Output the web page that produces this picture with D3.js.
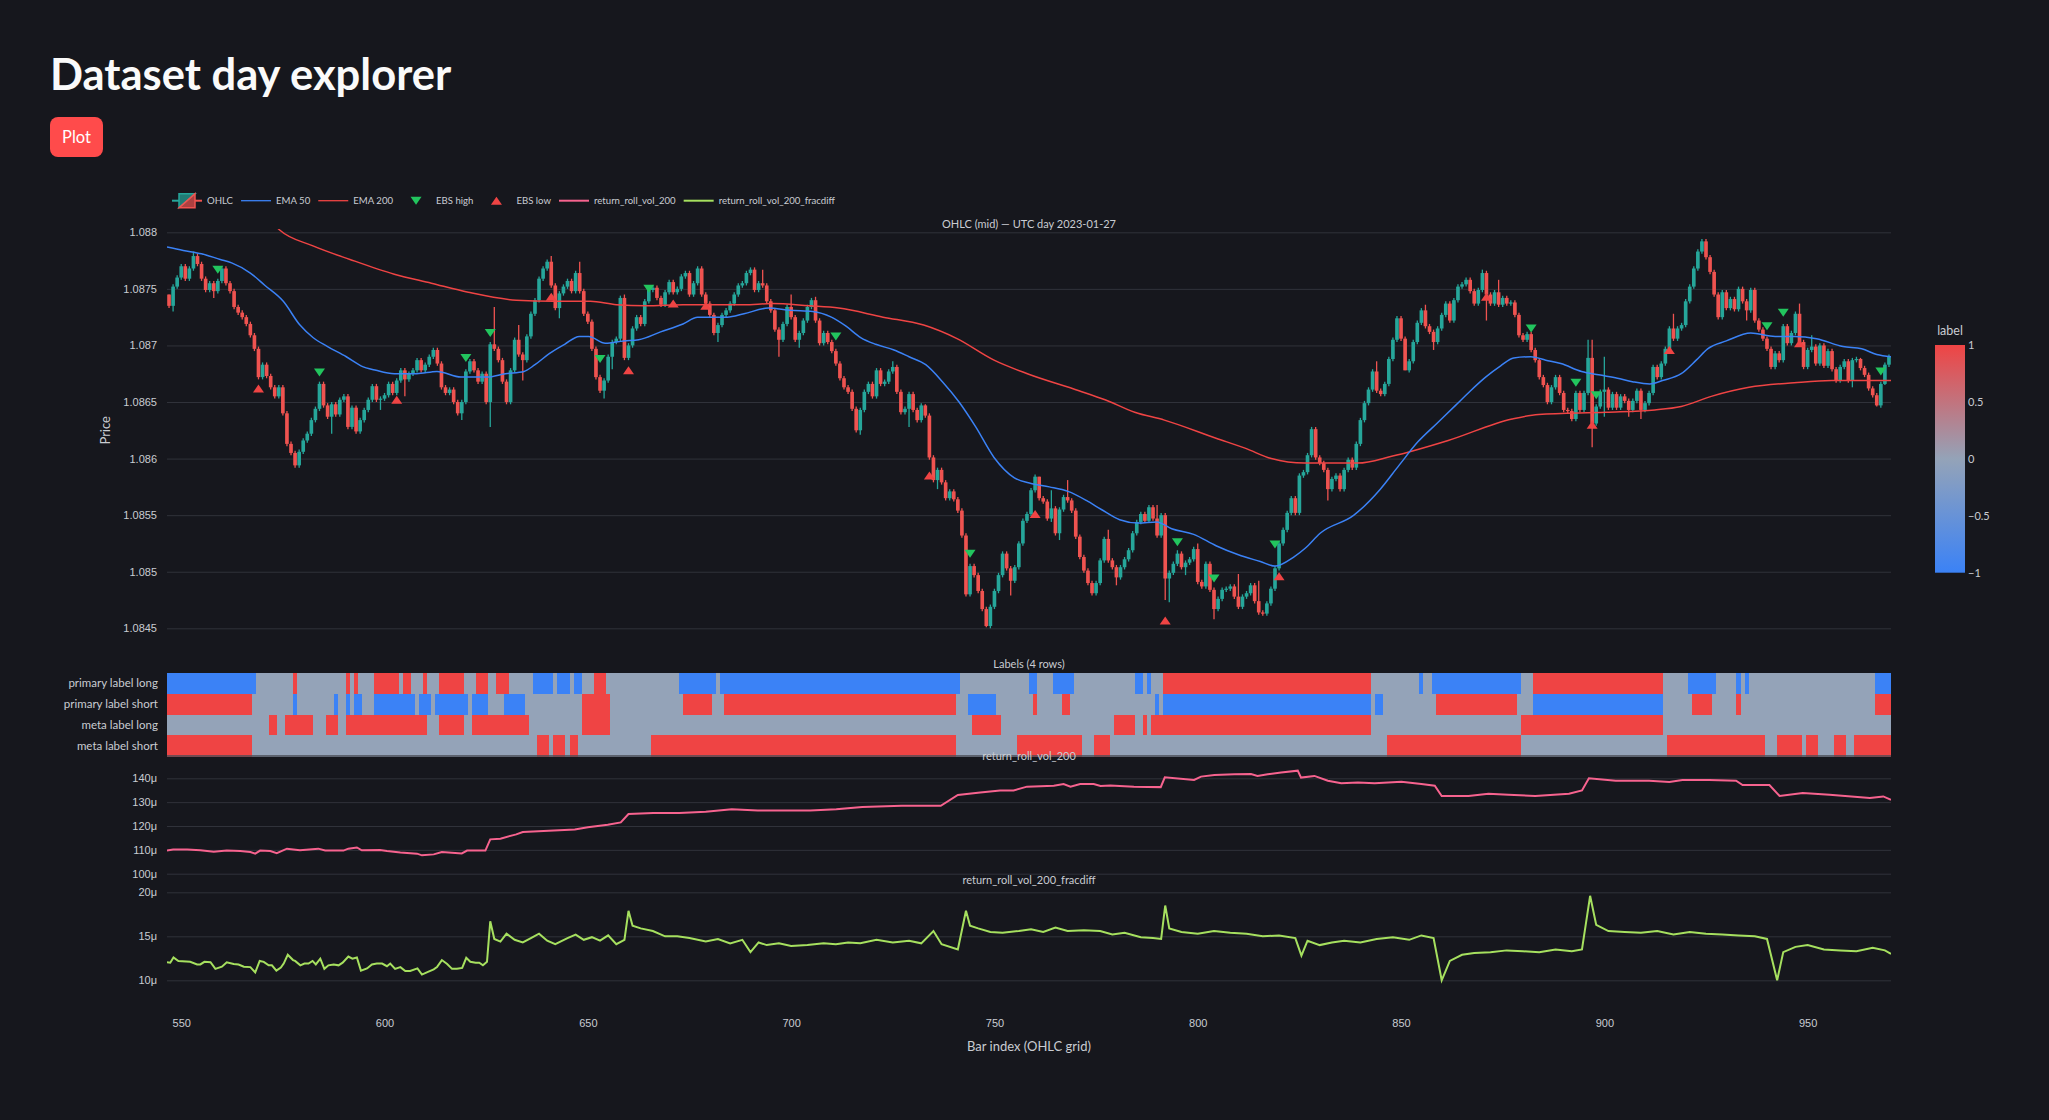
<!DOCTYPE html>
<html>
<head>
<meta charset="utf-8">
<script src="https://cdn.jsdelivr.net/npm/d3@7"></script>
<style>
  body { margin: 0; background: #16171d; }
  svg { display: block; font-family: "Lato", "Roboto", sans-serif; }
</style>
</head>
<body>
<div id="chart"></div>
<script>
// ---- data ----
var firstBar = 547;
var firstOpen = 1.08745;
var closes = [
  1.08735, 1.08752, 1.08760, 1.08770, 1.08759, 1.08768, 1.08779, 1.08772, 1.08759, 1.08749,
  1.08755, 1.08748, 1.08757, 1.08768, 1.08755, 1.08748, 1.08734, 1.08729, 1.08725, 1.08719,
  1.08709, 1.08697, 1.08672, 1.08683, 1.08673, 1.08663, 1.08655, 1.08663, 1.08640, 1.08613,
  1.08605, 1.08594, 1.08606, 1.08616, 1.08622, 1.08634, 1.08644, 1.08666, 1.08647, 1.08637,
  1.08648, 1.08639, 1.08652, 1.08655, 1.08628, 1.08645, 1.08624, 1.08634, 1.08643, 1.08652,
  1.08664, 1.08652, 1.08653, 1.08656, 1.08666, 1.08658, 1.08669, 1.08678, 1.08670, 1.08675,
  1.08678, 1.08687, 1.08678, 1.08683, 1.08690, 1.08696, 1.08684, 1.08663, 1.08658, 1.08661,
  1.08650, 1.08640, 1.08650, 1.08677, 1.08686, 1.08678, 1.08668, 1.08675, 1.08650, 1.08701,
  1.08697, 1.08687, 1.08668, 1.08650, 1.08678, 1.08705, 1.08692, 1.08687, 1.08708, 1.08728,
  1.08740, 1.08759, 1.08768, 1.08774, 1.08753, 1.08733, 1.08746, 1.08752, 1.08757, 1.08748,
  1.08764, 1.08748, 1.08728, 1.08721, 1.08697, 1.08672, 1.08660, 1.08669, 1.08690, 1.08703,
  1.08706, 1.08742, 1.08689, 1.08700, 1.08715, 1.08725, 1.08719, 1.08739, 1.08749, 1.08751,
  1.08742, 1.08736, 1.08747, 1.08756, 1.08747, 1.08750, 1.08761, 1.08764, 1.08745, 1.08755,
  1.08768, 1.08745, 1.08737, 1.08727, 1.08711, 1.08718, 1.08727, 1.08731, 1.08737, 1.08745,
  1.08753, 1.08755, 1.08764, 1.08767, 1.08749, 1.08755, 1.08753, 1.08739, 1.08731, 1.08714,
  1.08705, 1.08719, 1.08734, 1.08725, 1.08705, 1.08711, 1.08722, 1.08734, 1.08740, 1.08722,
  1.08702, 1.08711, 1.08703, 1.08695, 1.08684, 1.08671, 1.08663, 1.08659, 1.08644, 1.08625,
  1.08643, 1.08659, 1.08666, 1.08655, 1.08678, 1.08666, 1.08668, 1.08677, 1.08681, 1.08659,
  1.08641, 1.08644, 1.08657, 1.08643, 1.08634, 1.08647, 1.08638, 1.08601, 1.08581, 1.08590,
  1.08579, 1.08565, 1.08571, 1.08564, 1.08554, 1.08532, 1.08480, 1.08505, 1.08497, 1.08483,
  1.08467, 1.08452, 1.08469, 1.08483, 1.08497, 1.08516, 1.08503, 1.08492, 1.08504, 1.08525,
  1.08545, 1.08551, 1.08572, 1.08584, 1.08565, 1.08562, 1.08547, 1.08556, 1.08534, 1.08555,
  1.08566, 1.08563, 1.08554, 1.08531, 1.08513, 1.08501, 1.08490, 1.08481, 1.08490, 1.08510,
  1.08529, 1.08510, 1.08504, 1.08495, 1.08504, 1.08511, 1.08519, 1.08534, 1.08544, 1.08551,
  1.08545, 1.08557, 1.08547, 1.08532, 1.08550, 1.08494, 1.08499, 1.08507, 1.08516, 1.08504,
  1.08508, 1.08511, 1.08520, 1.08491, 1.08487, 1.08507, 1.08484, 1.08467, 1.08476, 1.08484,
  1.08485, 1.08487, 1.08478, 1.08469, 1.08478, 1.08481, 1.08488, 1.08474, 1.08464, 1.08463,
  1.08472, 1.08485, 1.08503, 1.08525, 1.08537, 1.08552, 1.08565, 1.08552, 1.08585, 1.08588,
  1.08603, 1.08626, 1.08601, 1.08596, 1.08590, 1.08573, 1.08582, 1.08585, 1.08573, 1.08590,
  1.08599, 1.08592, 1.08613, 1.08634, 1.08649, 1.08661, 1.08677, 1.08660, 1.08657, 1.08666,
  1.08688, 1.08705, 1.08724, 1.08706, 1.08678, 1.08686, 1.08703, 1.08720, 1.08731, 1.08717,
  1.08712, 1.08703, 1.08715, 1.08727, 1.08737, 1.08722, 1.08740, 1.08752, 1.08754, 1.08758,
  1.08748, 1.08737, 1.08749, 1.08764, 1.08745, 1.08737, 1.08747, 1.08736, 1.08742, 1.08737,
  1.08738, 1.08727, 1.08709, 1.08705, 1.08710, 1.08696, 1.08687, 1.08672, 1.08665, 1.08650,
  1.08663, 1.08672, 1.08658, 1.08643, 1.08642, 1.08635, 1.08658, 1.08643, 1.08658, 1.08689,
  1.08631, 1.08646, 1.08659, 1.08661, 1.08645, 1.08657, 1.08645, 1.08655, 1.08651, 1.08643,
  1.08651, 1.08660, 1.08643, 1.08649, 1.08658, 1.08681, 1.08672, 1.08684, 1.08697, 1.08715,
  1.08706, 1.08715, 1.08718, 1.08739, 1.08752, 1.08768, 1.08783, 1.08792, 1.08778, 1.08765,
  1.08745, 1.08725, 1.08747, 1.08733, 1.08741, 1.08732, 1.08750, 1.08739, 1.08731, 1.08749,
  1.08722, 1.08714, 1.08706, 1.08697, 1.08681, 1.08693, 1.08687, 1.08717, 1.08702, 1.08711,
  1.08728, 1.08703, 1.08681, 1.08696, 1.08699, 1.08684, 1.08700, 1.08682, 1.08695, 1.08679,
  1.08669, 1.08681, 1.08686, 1.08669, 1.08687, 1.08688, 1.08680, 1.08674, 1.08662, 1.08656,
  1.08647, 1.08666, 1.08683, 1.08690
];
// long wicks [bar, price]
var wickHigh = [[547,1.08744],[553,1.08783],[627,1.08734],[633,1.08718],[641,1.08779],[648,1.08774],
  [659,1.08745],[674,1.08766],[678,1.0877],[693,1.08767],[700,1.08745],[706,1.08743],[725,1.08686],
  [733,1.08648],[761,1.08584],[764,1.08572],[768,1.08581],[778,1.08537],[790,1.08559],[795,1.08519],
  [800,1.08525],[810,1.08498],[815,1.08492],[844,1.08686],[856,1.08736],[870,1.08767],[874,1.08758],
  [896,1.08705],[897,1.08705],[900,1.0869],[917,1.08728],[948,1.08737],[951,1.08709],[963,1.08689]];
var wickLow = [[548,1.0873],[558,1.08742],[587,1.08622],[599,1.08643],[605,1.08655],[619,1.08634],
  [626,1.08628],[634,1.08669],[643,1.08724],[654,1.08653],[656,1.08679],[682,1.08703],[697,1.0869],
  [702,1.08698],[717,1.08621],[729,1.08628],[736,1.08573],[748,1.08451],[754,1.08479],[764,1.08544],
  [766,1.08528],[780,1.08488],[792,1.08475],[793,1.08473],[797,1.08497],[804,1.08458],[816,1.08461],
  [832,1.08563],[851,1.08678],[858,1.08696],[871,1.08722],[897,1.0861],[900,1.08637],[906,1.08637],
  [909,1.08635],[935,1.08722],[961,1.08663],[967,1.08646],[969,1.08665]];

var ema50 = [[546.5,1.08787],[550.5,1.08784],[555,1.08781],[559.6,1.08776],[562.4,1.08773],[567,1.08764],
  [570.6,1.08753],[575.1,1.08739],[579.2,1.08718],[582.4,1.08707],[586,1.08699],[590.6,1.0869],
  [594.2,1.08682],[597.9,1.08678],[602.4,1.08675],[607.9,1.08675],[612.9,1.08677],[618.8,1.08672],
  [625.2,1.08672],[629.7,1.08675],[634.3,1.08677],[637,1.08683],[640.6,1.08693],[644.3,1.08701],
  [647.9,1.08708],[650.2,1.08708],[654.3,1.08702],[658.8,1.08704],[662.5,1.08705],[667.9,1.08712],
  [673.4,1.08719],[677,1.08725],[680.7,1.08725],[684.3,1.08725],[688.4,1.08728],[694.4,1.08733],
  [699.8,1.08731],[705.3,1.0873],[709.9,1.08725],[713.5,1.08717],[717.1,1.08707],[720.8,1.08701],
  [725.3,1.08696],[729,1.0869],[733.1,1.08683],[737.2,1.08668],[741.3,1.0865],[745.4,1.08628],
  [749.9,1.08601],[754.9,1.08583],[759,1.08578],[763.5,1.08575],[768.1,1.08571],[772.6,1.08563],
  [776.3,1.08555],[780.8,1.08546],[785.4,1.08543],[789.9,1.08544],[793.6,1.08538],[799,1.08533],
  [804.5,1.08523],[810,1.08515],[815.4,1.08509],[819,1.08505],[823.6,1.08513],[826.5,1.08521],
  [830.1,1.08534],[838.4,1.0855],[844.9,1.08573],[849.5,1.08594],[854.2,1.08615],[858.8,1.08631],
  [863.4,1.08647],[867.1,1.0866],[870.8,1.08672],[874.5,1.08682],[877.7,1.08689],[881.9,1.0869],
  [885.6,1.08687],[889.3,1.08684],[894.4,1.08677],[898.6,1.08674],[903.2,1.08671],[906.9,1.08668],
  [911.2,1.08666],[914.3,1.08669],[918.9,1.08675],[922.6,1.08687],[925.4,1.08697],[930,1.08704],
  [936,1.08711],[942,1.08708],[946.7,1.08708],[952.2,1.08706],[958.7,1.08699],[963.3,1.08697],
  [967,1.08692],[970.7,1.0869]];
var ema200 = [[572,1.0881],[574.2,1.08802],[582.4,1.08788],[591.5,1.08776],[602.4,1.08763],[611.5,1.08755],
  [620.6,1.08747],[632.4,1.0874],[641.5,1.08739],[650.6,1.08739],[657,1.08736],[664.3,1.08735],
  [673.4,1.08736],[682.5,1.08736],[688.4,1.08736],[695.3,1.08737],[704.4,1.08735],[711.7,1.08733],
  [722.6,1.08725],[732.6,1.08718],[740.8,1.08706],[749.9,1.08687],[758.1,1.08675],[770.8,1.0866],
  [777.2,1.08652],[784.5,1.08641],[791.8,1.08634],[804.5,1.08618],[811.8,1.08609],[818.1,1.086],
  [826.3,1.08596],[839.4,1.08596],[847.7,1.08602],[861.6,1.08616],[877.3,1.08635],[883.8,1.08639],
  [900.4,1.08641],[912.4,1.08643],[918.9,1.08646],[926.3,1.08655],[935.6,1.08663],[946.7,1.08667],
  [955.9,1.08669],[970.7,1.08669]];

var ebsHigh = [[559,1.08767],[584,1.08676],[620,1.08689],[626,1.08711],[653,1.08688],[665,1.0875],
  [711,1.08708],[744,1.08516],[795,1.08526],[804,1.08494],[819,1.08524],[882,1.08715],[893,1.08667],
  [898,1.08656],[940,1.08717],[944,1.08729],[968,1.08677]];
var ebsLow = [[569,1.08662],[603,1.08652],[641,1.08743],[660,1.08678],[671,1.08737],[679,1.08735],
  [734,1.08585],[760,1.08551],[792,1.08457],[820,1.08496],[871,1.08743],[897,1.0863],[916,1.08696],
  [948,1.08702]];

var labelRows = ["primary label long", "primary label short", "meta label long", "meta label short"];
// runs of non-zero labels: [fromBar, toBar, value]
var labelRuns = [
  [[547,568,-1],[578,578,1],[591,591,1],[593,593,1],[598,603,1],[605,606,1],[610,610,1],[614,619,1],
   [623,625,1],[628,630,1],[637,641,-1],[643,645,-1],[647,648,-1],[652,654,1],[673,681,-1],[683,741,-1],
   [759,760,-1],[765,769,-1],[785,786,-1],[788,788,-1],[792,842,1],[855,855,-1],[858,879,-1],[883,914,1],
   [921,927,-1],[933,933,-1],[935,935,-1],[967,970,-1]],
  [[547,567,1],[578,578,-1],[588,588,-1],[591,591,-1],[593,594,-1],[598,607,-1],[609,611,-1],[613,620,-1],
   [622,625,-1],[630,634,-1],[649,655,1],[674,680,1],[684,740,1],[744,750,-1],[760,760,1],[767,768,1],
   [790,790,-1],[792,842,-1],[844,845,-1],[859,878,1],[883,914,-1],[922,926,1],[933,933,1],[967,970,1]],
  [[572,573,1],[576,582,1],[586,588,1],[591,610,1],[614,619,1],[622,635,1],[649,655,1],[745,751,1],
   [780,784,1],[787,787,1],[789,842,1],[880,914,1]],
  [[547,567,1],[638,640,1],[642,644,1],[646,647,1],[666,740,1],[756,771,1],[775,778,1],[847,879,1],
   [916,939,1],[943,948,1],[950,952,1],[957,959,1],[962,970,1]]
];

// rolling vol series, in micro units: [bar, value]
var vol200 = [[546.5,109.7],[548,110.1],[551.5,110.1],[554.7,109.8],[558,109.2],[561.2,109.7],[564.5,109.5],
  [567,109.1],[568.2,108.4],[569.4,109.7],[571.9,109.5],[573.5,108.6],[576,110.5],[579.2,109.8],[583.7,110.5],
  [585.4,109.7],[589.9,109.7],[591.1,110.5],[593.2,111.0],[594.4,109.8],[598.9,109.9],[600.6,109.5],
  [603.9,108.9],[608,108.4],[609.2,107.7],[612.1,108.1],[614.1,109.1],[619,108.5],[620.3,109.7],
  [624.8,109.7],[626,114.4],[628.5,114.7],[632.4,116.5],[634,117.5],[640.4,118],[646.8,118.5],[650,119.5],
  [654.9,120.5],[658.1,121.5],[660,125],[666.1,125.5],[672.5,125.5],[679,126],[685.4,127],[691.8,126.5],
  [698.2,126.5],[704.7,126.5],[711.1,127],[717.5,128],[727.2,128.5],[736.8,128.5],[741,133],[746.5,134],
  [751.4,134.9],[754.7,134.9],[758,136.5],[764.6,136.9],[767,137.6],[768.7,136.5],[771.1,137.6],
  [774.4,137.6],[776.1,136.8],[778.5,137],[784.3,136.5],[790.9,136.3],[791.9,140.4],[799.1,139.3],
  [800.8,140.7],[804.1,141.4],[809,141.7],[813.1,141.8],[814.7,141],[817.2,141.7],[820.5,142.4],
  [824.6,143.2],[825.4,140.3],[828.7,141],[832,139],[835.3,137.9],[839.4,138.2],[843.5,137.9],
  [850.1,138.6],[855,137.6],[858.3,136.9],[860,132.6],[866.6,132.6],[871.5,133.5],[876.4,133.1],
  [883,132.6],[891.3,133.5],[894.5,134.9],[896.2,140],[902.8,139],[911,139],[916,138.5],[919.2,139.3],
  [925.8,139.3],[932.4,139],[934,137.2],[940.6,137.2],[943.1,132.6],[948.8,133.8],[955.4,133.1],
  [965.3,131.7],[968.6,132.4],[970.5,131]];
var volFracdiff = [[546.5,12.05],[547.3,12.0],[548.1,12.6],[549.3,12.2],[552.2,12.1],[553.9,11.8],[554.7,11.8],
  [555.7,12.1],[557.2,12.05],[558.4,11.3],[560,11.55],[561.2,12.05],[562.9,11.85],[564.1,11.8],[565.4,11.55],
  [567,11.5],[568.2,10.9],[569.3,12.2],[570.3,12.1],[571.5,11.7],[572.3,11.7],[573.4,11.1],[574.5,11.45],
  [575.2,11.9],[576.2,12.9],[577.5,12.3],[578,12.2],[579.3,11.7],[580.3,11.9],[581.3,11.9],[582.3,12.2],
  [583.1,11.8],[584.2,12.45],[585.2,11.3],[586.2,11.7],[587.5,11.8],[588.7,11.7],[589.7,12.0],[591.1,12.7],
  [592.1,12.45],[593.2,12.6],[594.2,11.1],[595.7,11.35],[596.9,11.8],[598.1,11.9],[599.4,11.9],[600.6,11.6],
  [601.4,11.9],[602.6,11.3],[603.9,11.5],[605.1,11.05],[606.3,11.05],[608.1,11.35],[609.2,10.65],
  [610.4,10.9],[612.1,11.25],[612.9,11.5],[614.1,12.3],[615.4,11.85],[616.6,11.3],[617.8,11.3],[619.1,11.4],
  [620.1,12.55],[621.1,12.1],[622.4,12.0],[623.3,12.0],[624.2,11.7],[625.2,12.1],[626,16.7],[627,14.7],
  [628.5,14.4],[630,15.3],[632,14.6],[634,14.3],[636,14.8],[638,15.3],[640,14.5],[642,14.1],[645,14.8],
  [647,15.2],[649,14.6],[651,14.9],[653,14.5],[655,15.1],[657,14.1],[659,14.6],[660,17.9],[661,16.2],
  [663,15.9],[666,15.6],[669,15.0],[672,15.0],[675,14.8],[679,14.4],[682,14.7],[685,14.2],[688,14.6],
  [690,13.2],[692,14.3],[694,14.0],[697,14.2],[700,13.9],[704,14.0],[708,14.2],[711,14.1],[714,14.3],
  [717,14.2],[721,14.6],[725,14.3],[729,14.5],[732,14.2],[735,15.6],[737,14.1],[741,13.5],[743,17.9],
  [744,16.2],[746,15.9],[749,15.5],[752,15.4],[756,15.6],[759,15.8],[762,15.5],[765,16.0],[768,15.6],
  [772,15.7],[776,15.6],[779,15.2],[782,15.4],[786,14.9],[789,14.8],[791,14.7],[792,18.5],[793,15.9],
  [796,15.5],[800,15.3],[804,15.6],[808,15.4],[812,15.3],[816,15.0],[820,15.1],[824,14.8],[825.5,12.8],
  [827,14.5],[830,14.0],[833,14.3],[836,14.5],[840,14.3],[844,14.7],[848,14.9],[852,14.6],[855,15.1],
  [858,14.8],[860,10.0],[862,12.2],[865,12.9],[868,13.1],[872,13.2],[876,13.4],[880,13.3],[884,13.2],
  [888,13.5],[892,13.3],[894.5,13.5],[896.5,19.6],[898,16.3],[901,15.6],[905,15.5],[909,15.4],[913,15.6],
  [917,15.2],[921,15.5],[925,15.3],[929,15.2],[933,15.1],[937,15.0],[940,14.7],[942.5,10.0],[944,13.2],
  [947,13.8],[950,14.0],[954,13.5],[958,13.4],[962,13.3],[966,13.7],[969,13.4],[970.5,13.0]];

var priceTicks = [1.0845, 1.085, 1.0855, 1.086, 1.0865, 1.087, 1.0875, 1.088];
var volTicks = [100, 110, 120, 130, 140];
var fracTicks = [10, 15, 20];
var barTicks = [550, 600, 650, 700, 750, 800, 850, 900, 950];
var colorTicks = [1, 0.5, 0, -0.5, -1];

// ---- layout ----
var W = 2049, H = 1120;
var L = 167, R = 1891;
var pTop = 229, pBot = 633;
var hTop = 673, hBot = 756;
var vTop = 760, vBot = 878;
var fTop = 886, fBot = 1008;

var UP = "#26a69a", DOWN = "#ef5350";
var GRID = "#30323a", TXT = "#c9ccd2";

var svg = d3.select("#chart").append("svg")
    .attr("width", W)
    .attr("height", H);

var x = d3.scaleLinear().domain([546.5, 970.5]).range([L, R]);
var yP = d3.scaleLinear().domain([1.0845, 1.088]).range([628.3, 232.3]);
var yV = d3.scaleLinear().domain([100, 140]).range([873.7, 778.3]);
var yF = d3.scaleLinear().domain([10, 20]).range([980.3, 892.3]);
var labelColor = d3.scaleLinear().domain([-1, 0, 1]).range(["#3b82f6", "#94a3b8", "#ef4444"]);

// page header
svg.append("text").attr("x", 50).attr("y", 90)
    .attr("fill", "#fafafa").attr("font-size", 43.5).attr("font-weight", 700)
    .text("Dataset day explorer");
svg.append("rect").attr("x", 50).attr("y", 117).attr("width", 53).attr("height", 40)
    .attr("rx", 8).attr("fill", "#ff4b4b");
svg.append("text").attr("x", 76.5).attr("y", 142.5).attr("text-anchor", "middle")
    .attr("fill", "#fff").attr("font-size", 16.5).text("Plot");

// clip paths
function clip(id, y0, y1) {
  svg.append("clipPath").attr("id", id).append("rect")
      .attr("x", L).attr("y", y0).attr("width", R - L).attr("height", y1 - y0);
}
clip("cp", pTop, pBot);
clip("cv", vTop, vBot);
clip("cf", fTop, fBot);

function yAxis(scale, ticks, fmt) {
  var g = svg.append("g").attr("transform", "translate(" + L + ",0)")
      .call(d3.axisLeft(scale).tickValues(ticks).tickFormat(fmt)
          .tickSize(-(R - L)).tickPadding(10));
  g.select(".domain").remove();
  g.selectAll(".tick line").attr("stroke", GRID);
  g.selectAll(".tick text").attr("fill", TXT).attr("font-size", 11).attr("font-family", null);
  return g;
}

// ---- price panel ----
yAxis(yP, priceTicks, function(d) { return String(d); });

var candles = closes.map(function(c, i) {
  var o = i === 0 ? firstOpen : closes[i - 1];
  var bar = firstBar + i;
  var hi = Math.max(o, c) + 0.00002, lo = Math.min(o, c) - 0.00002;
  wickHigh.forEach(function(w) { if (w[0] === bar) hi = Math.max(w[1], Math.max(o, c)); });
  wickLow.forEach(function(w) { if (w[0] === bar) lo = Math.min(w[1], Math.min(o, c)); });
  return {bar: bar, o: o, c: c, h: hi, l: lo};
});

var gp = svg.append("g").attr("clip-path", "url(#cp)");
var bw = (x(1) - x(0)) * 0.9;

gp.selectAll("line.wick").data(candles).enter().append("line")
    .attr("class", "wick")
    .attr("x1", function(d) { return x(d.bar); })
    .attr("x2", function(d) { return x(d.bar); })
    .attr("y1", function(d) { return yP(d.h); })
    .attr("y2", function(d) { return yP(d.l); })
    .attr("stroke", function(d) { return d.c >= d.o ? UP : DOWN; })
    .attr("stroke-width", 1.3);

gp.selectAll("rect.body").data(candles).enter().append("rect")
    .attr("class", "body")
    .attr("x", function(d) { return x(d.bar) - bw / 2; })
    .attr("width", bw)
    .attr("y", function(d) { return yP(Math.max(d.o, d.c)); })
    .attr("height", function(d) { return Math.max(1.2, Math.abs(yP(d.o) - yP(d.c))); })
    .attr("fill", function(d) { return d.c >= d.o ? UP : DOWN; });

var line = d3.line()
    .x(function(d) { return x(d[0]); })
    .y(function(d) { return yP(d[1]); })
    .curve(d3.curveMonotoneX);

gp.append("path").datum(ema200).attr("d", line)
    .attr("fill", "none").attr("stroke", "#ef4444").attr("stroke-width", 1.5);
gp.append("path").datum(ema50).attr("d", line)
    .attr("fill", "none").attr("stroke", "#3b82f6").attr("stroke-width", 1.5);

var triDown = "M-5.5,-4L5.5,-4L0,4Z", triUp = "M-5.5,4L5.5,4L0,-4Z";
gp.selectAll("path.ebsh").data(ebsHigh).enter().append("path")
    .attr("class", "ebsh").attr("d", triDown).attr("fill", "#22c55e")
    .attr("transform", function(d) { return "translate(" + x(d[0]) + "," + yP(d[1]) + ")"; });
gp.selectAll("path.ebsl").data(ebsLow).enter().append("path")
    .attr("class", "ebsl").attr("d", triUp).attr("fill", "#ef4444")
    .attr("transform", function(d) { return "translate(" + x(d[0]) + "," + yP(d[1]) + ")"; });

svg.append("text").attr("transform", "translate(110," + ((232.3 + 628.3) / 2) + ") rotate(-90)")
    .attr("text-anchor", "middle").attr("fill", TXT).attr("font-size", 13).text("Price");

function subTitle(txt, y) {
  svg.append("text").attr("x", (L + R) / 2).attr("y", y).attr("text-anchor", "middle")
      .attr("fill", TXT).attr("font-size", 11).text(txt);
}
subTitle("OHLC (mid) \u2014 UTC day 2023-01-27", 228);

// ---- labels heatmap: one rect per run of equal values ----
var rowH = (hBot - hTop) / labelRows.length;
var segs = [];
labelRows.forEach(function(name, r) {
  var lastBar = firstBar + closes.length - 1;
  var cur = null;
  for (var b = firstBar; b <= lastBar; b++) {
    var v = 0;
    labelRuns[r].forEach(function(run) { if (b >= run[0] && b <= run[1]) v = run[2]; });
    if (cur && cur.v === v) { cur.to = b; }
    else { cur = {row: r, from: b, to: b, v: v}; segs.push(cur); }
  }
});
svg.append("g").attr("shape-rendering", "crispEdges").selectAll("rect").data(segs).enter().append("rect")
    .attr("x", function(d) { return x(d.from - 0.5); })
    .attr("width", function(d) { return x(d.to + 0.5) - x(d.from - 0.5); })
    .attr("y", function(d) { return hTop + d.row * rowH; })
    .attr("height", rowH + 0.5)
    .attr("fill", function(d) { return labelColor(d.v); });
svg.append("line").attr("x1", L).attr("x2", R).attr("y1", hBot).attr("y2", hBot)
    .attr("stroke", "#4a4d56").attr("stroke-width", 1.5);
svg.append("g").selectAll("text").data(labelRows).enter().append("text")
    .attr("x", 158).attr("y", function(d, i) { return hTop + (i + 0.5) * rowH + 4; })
    .attr("text-anchor", "end").attr("fill", TXT).attr("font-size", 11.5)
    .text(function(d) { return d; });
subTitle("Labels (4 rows)", 668);

// colorbar
var defs = svg.append("defs");
var grad = defs.append("linearGradient").attr("id", "cbar")
    .attr("x1", 0).attr("x2", 0).attr("y1", 1).attr("y2", 0);
[-1, 0, 1].forEach(function(v) {
  grad.append("stop").attr("offset", (v + 1) / 2).attr("stop-color", labelColor(v));
});
var cb = d3.scaleLinear().domain([-1, 1]).range([572.7, 345]);
svg.append("rect").attr("x", 1935).attr("y", 345).attr("width", 30).attr("height", 227.7)
    .attr("fill", "url(#cbar)");
svg.append("text").attr("x", 1950).attr("y", 335).attr("text-anchor", "middle")
    .attr("fill", TXT).attr("font-size", 12.5).text("label");
svg.append("g").selectAll("text").data(colorTicks).enter().append("text")
    .attr("x", 1968).attr("y", function(d) { return cb(d) + 4; })
    .attr("fill", TXT).attr("font-size", 11)
    .text(function(d) { return d3.format("")(d).replace("-", "\u2212"); });

// ---- vol panels ----
var mu = function(d) { return d + "\u03bc"; };
yAxis(yV, volTicks, mu);
yAxis(yF, fracTicks, mu);

svg.append("path").datum(vol200).attr("clip-path", "url(#cv)")
    .attr("d", d3.line().x(function(d) { return x(d[0]); }).y(function(d) { return yV(d[1]); }))
    .attr("fill", "none").attr("stroke", "#f7638f").attr("stroke-width", 2);
svg.append("path").datum(volFracdiff).attr("clip-path", "url(#cf)")
    .attr("d", d3.line().x(function(d) { return x(d[0]); }).y(function(d) { return yF(d[1]); }))
    .attr("fill", "none").attr("stroke", "#a6e05f").attr("stroke-width", 2);

subTitle("return_roll_vol_200", 760);
subTitle("return_roll_vol_200_fracdiff", 884);

// ---- x axis ----
var gx = svg.append("g").attr("transform", "translate(0," + fBot + ")")
    .call(d3.axisBottom(x).tickValues(barTicks).tickSize(0).tickPadding(11));
gx.select(".domain").remove();
gx.selectAll(".tick text").attr("fill", TXT).attr("font-size", 11).attr("font-family", null);
svg.append("text").attr("x", (L + R) / 2).attr("y", 1051).attr("text-anchor", "middle")
    .attr("fill", TXT).attr("font-size", 13).text("Bar index (OHLC grid)");

// ---- legend ----
var legendItems = [
  {name: "OHLC", type: "ohlc"},
  {name: "EMA 50", type: "line", color: "#3b82f6"},
  {name: "EMA 200", type: "line", color: "#ef4444"},
  {name: "EBS high", type: "down", color: "#22c55e"},
  {name: "EBS low", type: "up", color: "#ef4444"},
  {name: "return_roll_vol_200", type: "line", color: "#f7638f", w: 2},
  {name: "return_roll_vol_200_fracdiff", type: "line", color: "#a6e05f", w: 2}
];
var lg = svg.append("g");
var lx = 172, ly = 200.7;
legendItems.forEach(function(it) {
  var g = lg.append("g").attr("transform", "translate(" + lx + "," + ly + ")");
  if (it.type === "line") {
    g.append("line").attr("x1", 0).attr("x2", 30).attr("stroke", it.color).attr("stroke-width", it.w || 1.3);
  } else if (it.type === "ohlc") {
    g.append("line").attr("x1", 0).attr("x2", 7).attr("stroke", UP).attr("stroke-width", 2);
    g.append("line").attr("x1", 23).attr("x2", 30).attr("stroke", DOWN).attr("stroke-width", 2);
    g.append("path").attr("d", "M7,-7L23,-7L7,7Z").attr("fill", UP).attr("fill-opacity", 0.7)
        .attr("stroke", UP).attr("stroke-width", 1.5);
    g.append("path").attr("d", "M23,-7L23,7L7,7Z").attr("fill", DOWN).attr("fill-opacity", 0.7)
        .attr("stroke", DOWN).attr("stroke-width", 1.5);
  } else {
    g.append("path").attr("d", it.type === "down" ? triDown : triUp)
        .attr("transform", "translate(15,0)").attr("fill", it.color);
  }
  var t = g.append("text").attr("x", 35).attr("y", 3.5).attr("fill", TXT)
      .attr("font-size", 9.6).text(it.name);
  lx += 35 + t.node().getComputedTextLength() + 8;
});
</script>
</body>
</html>
